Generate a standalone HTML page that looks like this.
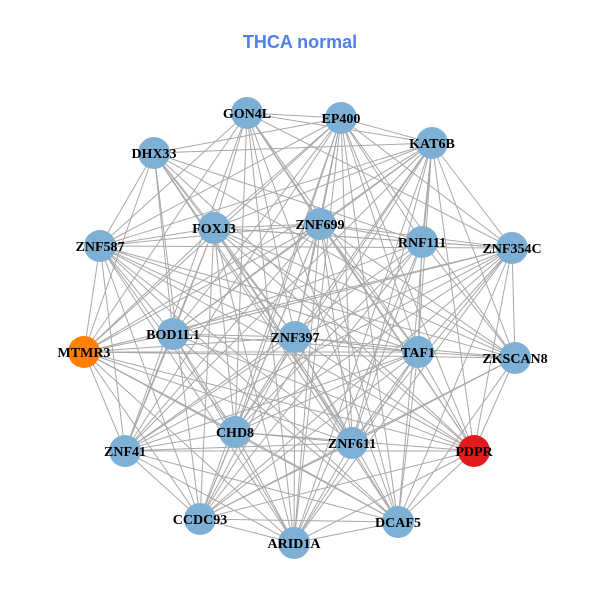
<!DOCTYPE html>
<html><head><meta charset="utf-8"><style>
html,body{margin:0;padding:0;background:#fff;width:600px;height:600px;overflow:hidden}
svg{display:block}
.t{font-family:"Liberation Sans",sans-serif;font-weight:bold;font-size:18px;fill:#4f7fe8}
.l{font-family:"Liberation Serif",serif;font-weight:bold;font-size:14px;fill:#000}
</style></head><body>
<svg id="s" width="600" height="600" viewBox="0 0 600 600">
<text class="t" x="300" y="48" text-anchor="middle">THCA normal</text>
<g id="e" stroke="#a8a8a8" stroke-width="1"></g>
<g id="n"></g>
<g text-anchor="middle">
<text class="l" x="247" y="118">GON4L</text>
<text class="l" x="341" y="123">EP400</text>
<text class="l" x="432" y="148">KAT6B</text>
<text class="l" x="154" y="158">DHX33</text>
<text class="l" x="214" y="233">FOXJ3</text>
<text class="l" x="320" y="229">ZNF699</text>
<text class="l" x="422" y="247">RNF111</text>
<text class="l" x="100" y="251">ZNF587</text>
<text class="l" x="512" y="253">ZNF354C</text>
<text class="l" x="173" y="339">BOD1L1</text>
<text class="l" x="295" y="342">ZNF397</text>
<text class="l" x="418" y="357">TAF1</text>
<text class="l" x="515" y="363">ZKSCAN8</text>
<text class="l" x="84" y="357">MTMR3</text>
<text class="l" x="235" y="437">CHD8</text>
<text class="l" x="352" y="448">ZNF611</text>
<text class="l" x="474" y="456">PDPR</text>
<text class="l" x="125" y="456">ZNF41</text>
<text class="l" x="200" y="524">CCDC93</text>
<text class="l" x="398" y="527">DCAF5</text>
<text class="l" x="294" y="548">ARID1A</text>
</g>
</svg>
<script>
var P=[[247,113],[341,118],[432,143],[154,153],[214,228],[320,224],[422,242],[100,246],[512,248],[173,334],[295,337],[418,352],[515,358],[84,352],[235,432],[352,443],[474,451],[125,451],[200,519],[398,522],[294,543]];
var C={13:"#ff8000",16:"#e31a1c"};
var ns="http://www.w3.org/2000/svg",e=document.getElementById("e"),n=document.getElementById("n");
for(var i=0;i<P.length;i++)for(var j=i+1;j<P.length;j++){
 if((i*7+j*3)%9==0)continue;
 var l=document.createElementNS(ns,"line");
 l.setAttribute("x1",P[i][0]);l.setAttribute("y1",P[i][1]);l.setAttribute("x2",P[j][0]);l.setAttribute("y2",P[j][1]);e.appendChild(l);}
for(var i=0;i<P.length;i++){var c=document.createElementNS(ns,"circle");
 c.setAttribute("cx",P[i][0]);c.setAttribute("cy",P[i][1]);c.setAttribute("r",16);c.setAttribute("fill",C[i]||"#7eb0d5");n.appendChild(c);}
</script>
</body></html>
